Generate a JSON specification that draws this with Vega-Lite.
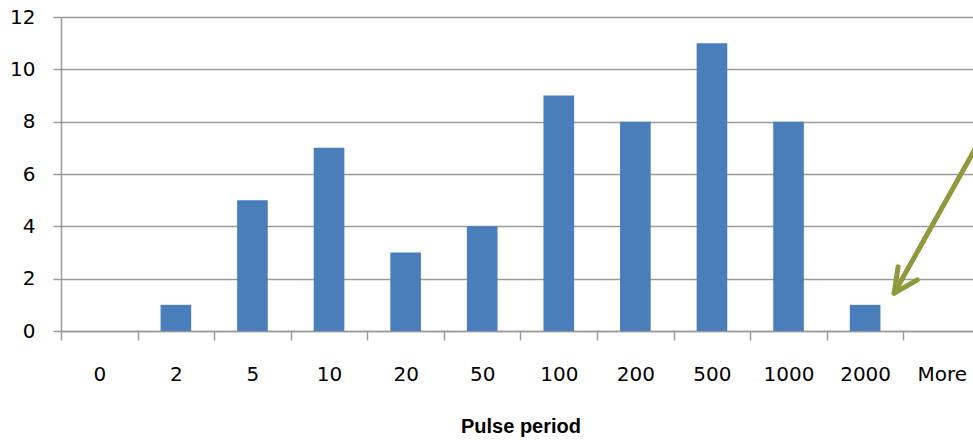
{
  "$schema": "https://vega.github.io/schema/vega-lite/v6.json",
  "autosize": {"type": "none"},
  "width": 912,
  "height": 314,
  "padding": {"left": 61, "top": 17, "right": 0, "bottom": 109},
  "background": "white",
  "config": {"view": {"stroke": null}, "font": "DejaVu Sans"},
  "layer": [
    {
      "data": {
        "values": [
          {"bin": "0", "count": 0},
          {"bin": "2", "count": 1},
          {"bin": "5", "count": 5},
          {"bin": "10", "count": 7},
          {"bin": "20", "count": 3},
          {"bin": "50", "count": 4},
          {"bin": "100", "count": 9},
          {"bin": "200", "count": 8},
          {"bin": "500", "count": 11},
          {"bin": "1000", "count": 8},
          {"bin": "2000", "count": 1},
          {"bin": "More", "count": 0}
        ]
      },
      "mark": {"type": "bar", "color": "#4a7ebb", "width": {"band": 0.4}},
      "encoding": {
        "x": {
          "field": "bin",
          "type": "nominal",
          "sort": null,
          "scale": {"range": [0, 919], "paddingInner": 0, "paddingOuter": 0},
          "axis": {
            "title": "Pulse period",
            "titleFont": "Liberation Sans",
            "titleFontWeight": "bold",
            "titleFontSize": 20,
            "titleColor": "#000000",
            "titlePadding": 32,
            "labelFont": "DejaVu Sans",
            "labelFontSize": 20,
            "labelColor": "#000000",
            "labelAngle": 0,
            "labelPadding": 24,
            "tickBand": "extent",
            "tickSize": 9,
            "tickColor": "#9a9a9a",
            "tickWidth": 1.5,
            "domainColor": "#9a9a9a",
            "domainWidth": 1.5
          }
        },
        "y": {
          "field": "count",
          "type": "quantitative",
          "scale": {"domain": [0, 12], "nice": false},
          "axis": {
            "title": null,
            "values": [0, 2, 4, 6, 8, 10, 12],
            "grid": true,
            "gridColor": "#9a9a9a",
            "gridWidth": 1.5,
            "labelFont": "DejaVu Sans",
            "labelFontSize": 20,
            "labelColor": "#000000",
            "labelPadding": 18,
            "tickSize": 8,
            "tickColor": "#9a9a9a",
            "tickWidth": 1.5,
            "domainColor": "#9a9a9a",
            "domainWidth": 1.5
          }
        }
      }
    },
    {
      "data": {
        "values": [
          {"x1": 12.07, "y1": 7.66, "x2": 10.88, "y2": 1.45},
          {"x1": 10.88, "y1": 1.45, "x2": 10.93, "y2": 2.45},
          {"x1": 10.88, "y1": 1.45, "x2": 11.18, "y2": 1.95}
        ]
      },
      "mark": {"type": "rule", "color": "#8f9a3c", "strokeWidth": 5, "strokeCap": "round"},
      "encoding": {
        "x": {"field": "x1", "type": "quantitative", "scale": {"domain": [0, 12], "range": [0, 919], "nice": false}, "axis": null},
        "x2": {"field": "x2"},
        "y": {"field": "y1", "type": "quantitative", "axis": {"title": null}},
        "y2": {"field": "y2"}
      }
    }
  ],
  "resolve": {"scale": {"x": "independent"}}
}
